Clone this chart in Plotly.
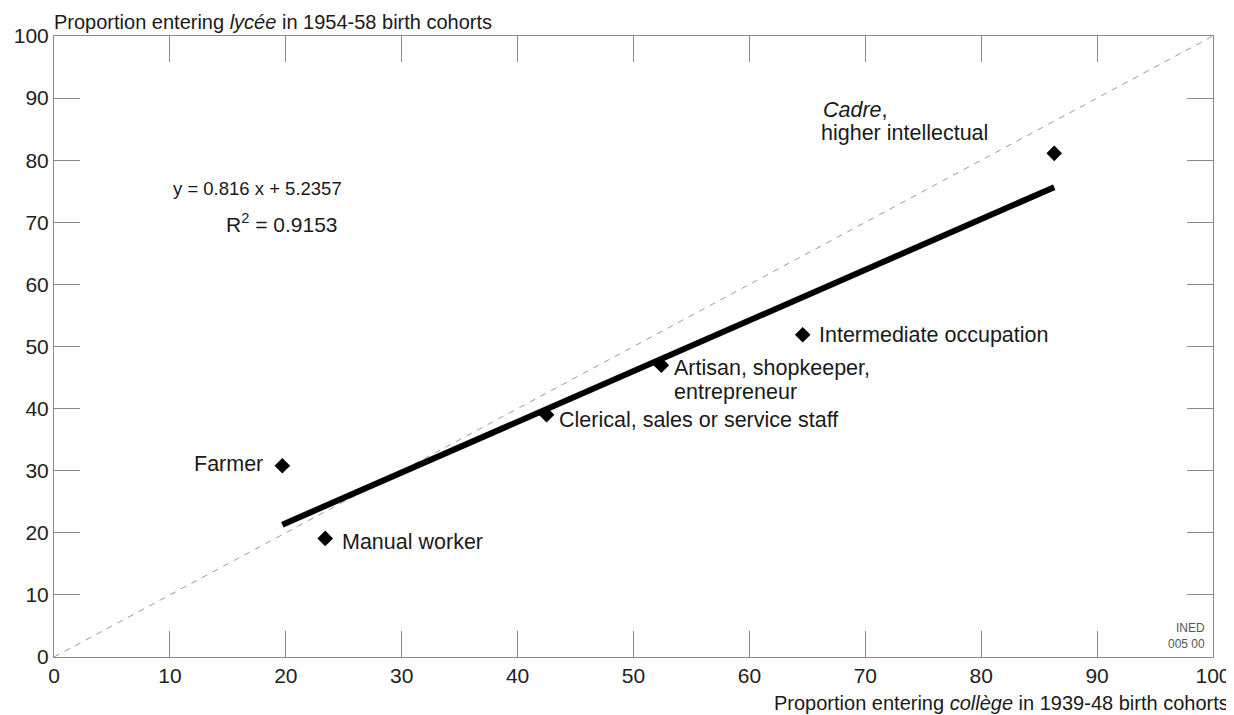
import plotly.graph_objects as go

# Data
categories = ["Farmer", "Manual worker", "Clerical, sales or service staff",
              "Artisan, shopkeeper, entrepreneur", "Intermediate occupation",
              "Cadre, higher intellectual"]
college_1939_48 = [19.7, 23.4, 42.5, 52.4, 64.6, 86.3]
lycee_1954_58 = [30.8, 19.1, 39.0, 47.0, 51.9, 81.1]
slope = 0.816
intercept = 5.2357
r_squared = 0.9153
tick_vals = [0, 10, 20, 30, 40, 50, 60, 70, 80, 90, 100]

FONT = "Liberation Sans, Arial, Helvetica, sans-serif"
TXT = "#1a1a1a"
LAB = 21.5

x_min, x_max = min(college_1939_48), max(college_1939_48)
fit_x = [x_min, x_max]
fit_y = [slope * v + intercept for v in fit_x]

fig = go.Figure()
# 45-degree reference line
fig.add_trace(go.Scatter(x=[tick_vals[0], tick_vals[-1]], y=[tick_vals[0], tick_vals[-1]],
                         mode="lines", line=dict(color="#9a9a9a", width=1, dash="6px,6px"),
                         hoverinfo="skip", showlegend=False))
# regression line
fig.add_trace(go.Scatter(x=fit_x, y=fit_y, mode="lines",
                         line=dict(color="black", width=6), showlegend=False))
# points
fig.add_trace(go.Scatter(x=college_1939_48, y=lycee_1954_58, mode="markers",
                         marker=dict(symbol="diamond", size=12, color="black"),
                         text=categories, showlegend=False))

ann = []
def lab(x, y, text, xanchor="left", size=LAB, color=TXT):
    ann.append(dict(x=x, y=y, xref="x", yref="y", text=text, showarrow=False,
                    xanchor=xanchor, yanchor="middle",
                    font=dict(family=FONT, size=size, color=color)))

lab(18.2, 31.1, "Farmer", xanchor="right")
lab(24.7, 18.5, "Manual worker")
lab(43.4, 38.2, "Clerical, sales or service staff")
lab(53.3, 46.5, "Artisan, shopkeeper,")
lab(53.3, 42.7, "entrepreneur")
lab(65.8, 51.85, "Intermediate occupation")
lab(66.2, 88.1, "<i>Cadre</i>,")
lab(66.0, 84.4, "higher intellectual")
lab(17.6, 75.5, f"y = {slope} x + {intercept}", xanchor="center", size=18.5)
lab(19.7, 69.9, f"R<sup>2</sup> = {r_squared}", xanchor="center", size=21)

ann.append(dict(x=1, y=0, xref="paper", yref="paper", xshift=-6, yshift=4,
                text="INED<br>005 00", showarrow=False, xanchor="right", yanchor="bottom",
                align="right", font=dict(family=FONT, size=12, color="#555")))
ann.append(dict(x=0, y=1, xref="paper", yref="paper", xshift=-2, yshift=1,
                text="Proportion entering <i>lycée</i> in 1954-58 birth cohorts",
                showarrow=False, xanchor="left", yanchor="bottom",
                font=dict(family=FONT, size=20, color=TXT)))
ann.append(dict(x=1, y=0, xref="paper", yref="paper", xshift=18, yshift=-46,
                text="Proportion entering <i>collège</i> in 1939-48 birth cohorts",
                showarrow=False, xanchor="right", yanchor="middle",
                font=dict(family=FONT, size=20, color=TXT)))

axis_common = dict(range=[0, 100], tickvals=tick_vals, ticks="inside", ticklen=26,
                   tickcolor="#8a8a8a", tickwidth=1, showline=True, linecolor="#8a8a8a",
                   linewidth=1, mirror="allticks", showgrid=False, zeroline=False,
                   automargin=False,
                   tickfont=dict(family=FONT, size=21, color="#222"))

# the page adds an 8px body margin, so the figure is sized to the remaining window
fig.update_layout(
    width=1226, height=707,
    margin=dict(l=46, r=21, t=28, b=58, autoexpand=False),
    plot_bgcolor="white", paper_bgcolor="white",
    xaxis=dict(**axis_common),
    yaxis=dict(**axis_common),
    annotations=ann,
    showlegend=False,
)

fig.write_html("out.html")
